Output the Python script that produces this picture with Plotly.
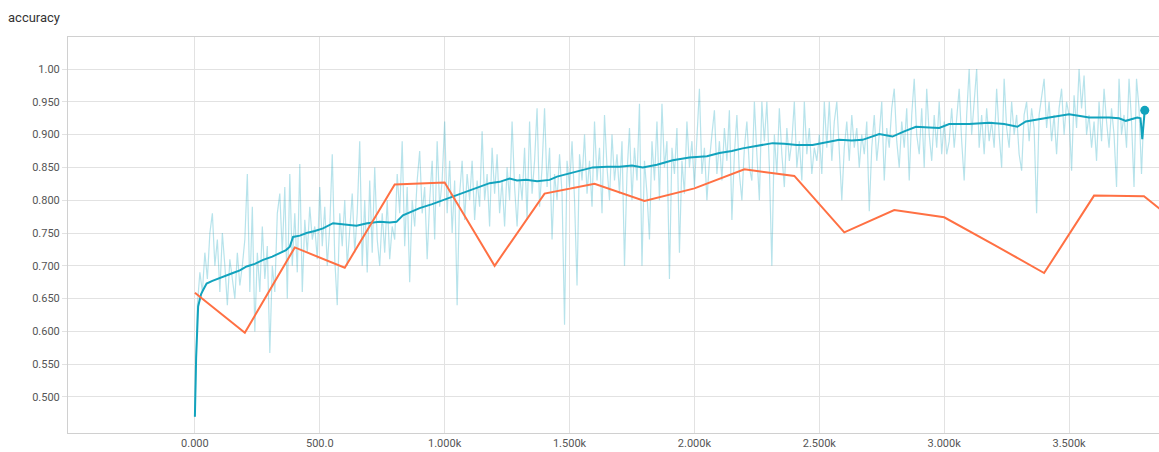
import plotly.graph_objects as go

# ---------------- data ----------------
raw_steps = list(range(0, 3801, 10))
raw_values = [
    0.47, 0.64, 0.69, 0.66, 0.72, 0.68, 0.75, 0.78, 0.70, 0.74,
    0.66, 0.75, 0.70, 0.64, 0.71, 0.68, 0.65, 0.72, 0.67, 0.70,
    0.74, 0.84, 0.66, 0.79, 0.60, 0.72, 0.66, 0.76, 0.68, 0.73,
    0.567, 0.70, 0.66, 0.78, 0.81, 0.72, 0.82, 0.65, 0.84, 0.70,
    0.78, 0.69, 0.855, 0.66, 0.77, 0.72, 0.79, 0.74, 0.76, 0.71,
    0.82, 0.73, 0.79, 0.70, 0.76, 0.87, 0.71, 0.64, 0.78, 0.73,
    0.80, 0.70, 0.76, 0.81, 0.72, 0.78, 0.89, 0.70, 0.80, 0.69,
    0.83, 0.72, 0.85, 0.74, 0.70, 0.78, 0.72, 0.80, 0.71, 0.76,
    0.74, 0.84, 0.78, 0.89, 0.73, 0.82, 0.675, 0.80, 0.76, 0.83,
    0.875, 0.78, 0.82, 0.71, 0.80, 0.86, 0.74, 0.89, 0.79, 0.83,
    0.92, 0.78, 0.86, 0.75, 0.83, 0.64, 0.81, 0.86, 0.77, 0.84,
    0.80, 0.86, 0.77, 0.83, 0.79, 0.905, 0.80, 0.84, 0.76, 0.88,
    0.81, 0.87, 0.78, 0.83, 0.76, 0.85, 0.80, 0.92, 0.82, 0.76,
    0.84, 0.80, 0.88, 0.77, 0.92, 0.81, 0.86, 0.94, 0.79, 0.85,
    0.94, 0.82, 0.88, 0.74, 0.84, 0.80, 0.87, 0.81, 0.61, 0.86,
    0.82, 0.89, 0.80, 0.67, 0.87, 0.83, 0.90, 0.81, 0.86, 0.79,
    0.92, 0.83, 0.88, 0.78, 0.93, 0.85, 0.80, 0.90, 0.83, 0.87,
    0.81, 0.89, 0.70, 0.84, 0.91, 0.80, 0.88, 0.83, 0.947, 0.70,
    0.86, 0.81, 0.74, 0.89, 0.83, 0.92, 0.80, 0.947, 0.85, 0.89,
    0.68, 0.88, 0.84, 0.91, 0.72, 0.86, 0.81, 0.92, 0.85, 0.89,
    0.82, 0.90, 0.97, 0.84, 0.88, 0.80, 0.86, 0.90, 0.937, 0.84,
    0.89, 0.83, 0.91, 0.86, 0.937, 0.77, 0.87, 0.93, 0.84, 0.80,
    0.88, 0.92, 0.85, 0.83, 0.95, 0.87, 0.80, 0.95, 0.89, 0.95,
    0.85, 0.70, 0.90, 0.84, 0.94, 0.87, 0.82, 0.91, 0.86, 0.89,
    0.95, 0.85, 0.89, 0.83, 0.95, 0.87, 0.91, 0.84, 0.88, 0.86,
    0.90, 0.84, 0.95, 0.88, 0.95, 0.86, 0.92, 0.95, 0.87, 0.80,
    0.88, 0.92, 0.86, 0.93, 0.88, 0.91, 0.85, 0.90, 0.87, 0.92,
    0.783, 0.88, 0.93, 0.86, 0.90, 0.95, 0.83, 0.91, 0.88, 0.94,
    0.97, 0.89, 0.85, 0.92, 0.88, 0.94, 0.83, 0.93, 0.985, 0.90,
    0.87, 0.94, 0.85, 0.97, 0.90, 0.86, 0.93, 0.88, 0.95, 0.87,
    0.92, 0.87, 0.89, 0.94, 0.88, 0.92, 0.97, 0.89, 0.83, 0.93,
    1.0, 0.90, 0.95, 1.0, 0.88, 0.93, 0.87, 0.94, 0.89, 0.92,
    0.88, 0.97, 0.90, 0.85, 0.985, 0.91, 0.88, 0.95, 0.90, 0.93,
    0.87, 0.845, 0.93, 0.95, 0.89, 0.94, 0.91, 0.78, 0.93, 0.96,
    0.985, 0.91, 0.95, 0.89, 0.93, 0.87, 0.94, 0.97, 0.90, 0.95,
    0.93, 0.845, 0.96, 0.91, 1.0, 0.94, 0.99, 0.90, 0.93, 0.88,
    0.92, 0.86, 0.95, 0.89, 0.97, 0.92, 0.88, 0.94, 0.90, 0.82,
    0.985, 0.90, 0.93, 0.88, 0.985, 0.92, 0.82, 0.985, 0.94, 0.84,
    0.94,
]

smooth_steps = [
    0, 5, 13, 25, 33, 47, 70, 100, 130, 152, 180, 207, 240, 273, 310, 340,
    365, 380, 393, 420, 447, 480, 513, 553, 600, 647, 690, 740, 780, 807,
    833, 870, 900, 950, 993, 1020, 1047, 1090, 1140, 1180, 1220, 1260, 1290,
    1327, 1370, 1420, 1450, 1500, 1550, 1593, 1650, 1700, 1750, 1793, 1850,
    1913, 1980, 2050, 2100, 2150, 2193, 2260, 2313, 2360, 2410, 2473, 2530,
    2580, 2630, 2673, 2740, 2793, 2840, 2887, 2940, 2980, 3020, 3100, 3180,
    3240, 3293, 3327, 3420, 3500, 3550, 3580, 3660, 3700, 3727, 3760, 3773,
    3786, 3793, 3803,
]
smooth_values = [
    0.470, 0.560, 0.638, 0.657, 0.663, 0.673, 0.677, 0.681, 0.686, 0.689,
    0.693, 0.699, 0.703, 0.709, 0.714, 0.719, 0.724, 0.729, 0.744, 0.746,
    0.750, 0.753, 0.757, 0.765, 0.763, 0.761, 0.765, 0.767, 0.766, 0.767,
    0.777, 0.783, 0.788, 0.794, 0.800, 0.804, 0.808, 0.814, 0.821, 0.826,
    0.828, 0.833, 0.830, 0.831, 0.829, 0.831, 0.836, 0.841, 0.845, 0.850,
    0.851, 0.851, 0.853, 0.850, 0.854, 0.861, 0.865, 0.867, 0.872, 0.875,
    0.879, 0.883, 0.887, 0.886, 0.884, 0.884, 0.888, 0.892, 0.891, 0.892,
    0.901, 0.897, 0.905, 0.912, 0.911, 0.910, 0.916, 0.916, 0.918, 0.916,
    0.912, 0.920, 0.926, 0.931, 0.928, 0.926, 0.926, 0.925, 0.921, 0.924,
    0.926, 0.925, 0.893, 0.937,
]

val_steps = [0, 200, 400, 600, 800, 1000, 1200, 1400, 1600, 1800, 2000,
             2200, 2400, 2600, 2800, 3000, 3200, 3400, 3600, 3800, 4000]
val_values = [0.659, 0.598, 0.728, 0.697, 0.824, 0.827, 0.700, 0.810, 0.825,
              0.799, 0.818, 0.847, 0.837, 0.751, 0.785, 0.774, 0.732, 0.689,
              0.807, 0.806, 0.745]

y_ticks = [1.0, 0.95, 0.9, 0.85, 0.8, 0.75, 0.7, 0.65, 0.6, 0.55, 0.5]
y_labels = ["1.00", "0.950", "0.900", "0.850", "0.800", "0.750", "0.700",
            "0.650", "0.600", "0.550", "0.500"]
x_ticks = [0, 500, 1000, 1500, 2000, 2500, 3000, 3500]
x_labels = ["0.000", "500.0", "1.000k", "1.500k", "2.000k", "2.500k",
            "3.000k", "3.500k"]

# ---------------- figure ----------------
CYAN = "#12a3bd"
RAW = "rgba(18,163,189,0.3)"
ORANGE = "#ff7043"

fig = go.Figure()
fig.add_trace(go.Scatter(x=raw_steps, y=raw_values, mode="lines",
                         line=dict(color=RAW, width=1.2), hoverinfo="skip",
                         showlegend=False))
fig.add_trace(go.Scatter(x=smooth_steps, y=smooth_values, mode="lines",
                         line=dict(color=CYAN, width=2), showlegend=False))
fig.add_trace(go.Scatter(x=smooth_steps[-1:], y=smooth_values[-1:],
                         mode="markers", marker=dict(color=CYAN, size=9),
                         cliponaxis=False, showlegend=False))
fig.add_trace(go.Scatter(x=val_steps, y=val_values, mode="lines",
                         line=dict(color=ORANGE, width=2), showlegend=False))

fig.update_layout(
    width=1159, height=452,
    margin=dict(l=68, r=0, t=37, b=19, autoexpand=False),
    paper_bgcolor="white", plot_bgcolor="white",
    font=dict(family="Roboto, Arial, sans-serif", size=11, color="#555"),
    title=dict(text="accuracy", x=8 / 1159, xanchor="left", xref="container",
               y=1 - 17 / 452, yanchor="middle", yref="container",
               font=dict(size=13, color="#333")),
)
fig.update_xaxes(
    range=[-508, 3860], tickvals=x_ticks, ticktext=x_labels,
    showgrid=True, gridcolor="#e2e2e2", gridwidth=1,
    showline=True, linecolor="#d0d0d0", linewidth=1, mirror=True,
    ticks="", zeroline=False, automargin=False,
    tickfont=dict(size=11, color="#555"),
)
fig.update_yaxes(
    range=[0.4451, 1.0488], tickvals=y_ticks, ticktext=y_labels,
    showgrid=True, gridcolor="#e2e2e2", gridwidth=1,
    showline=True, linecolor="#d0d0d0", linewidth=1,
    ticks="outside", ticklen=5, tickcolor="#e2e2e2",
    zeroline=False, automargin=False,
    tickfont=dict(size=11, color="#555"),
)

fig.write_html(
    "out.html",
    config={"displayModeBar": False},
    post_script="document.body.style.margin='0px';"
                "document.body.style.overflow='hidden';",
)
